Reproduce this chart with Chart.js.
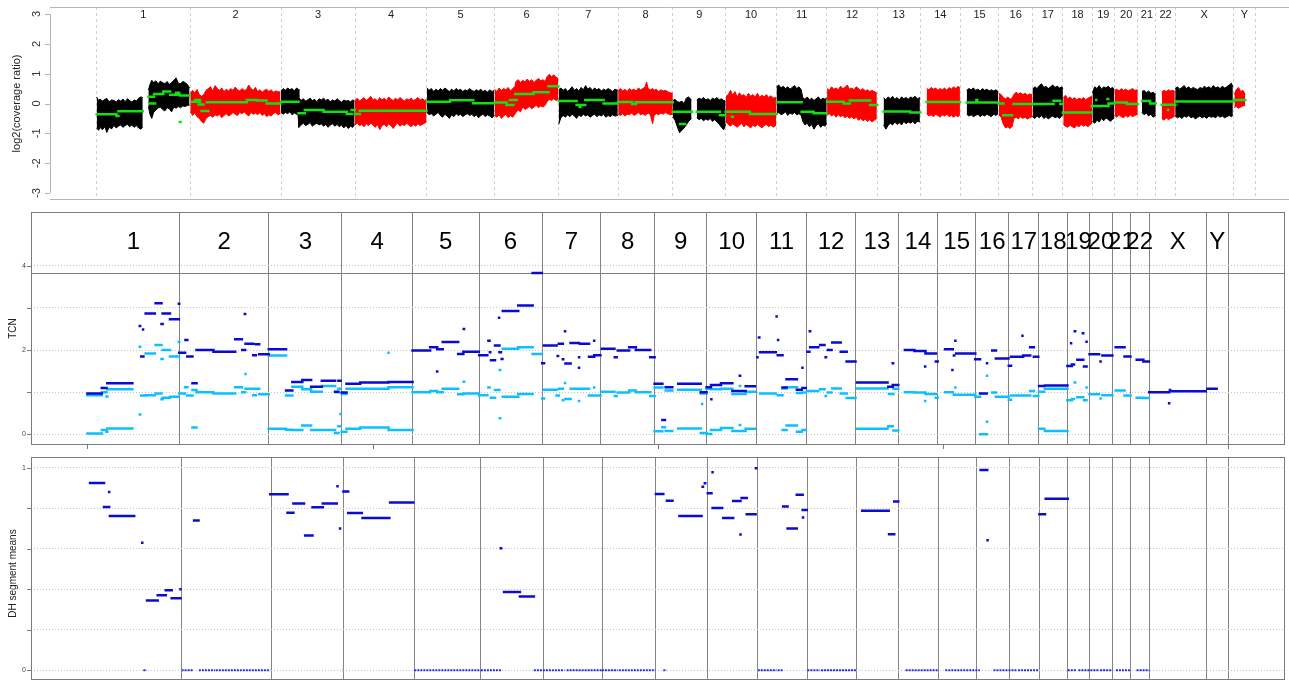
<!DOCTYPE html>
<html>
<head>
<meta charset="utf-8">
<title>Copy number profile</title>
<script src="https://cdn.jsdelivr.net/npm/chart.js@4.4.1/dist/chart.umd.min.js"></script>
<style>
  html, body { margin: 0; padding: 0; background: #ffffff; }
  #wrap { position: relative; width: 1289px; height: 682px; overflow: hidden; }
  .panel { position: absolute; left: 0; }
  canvas { display: block; }
</style>
</head>
<body>
<div id="wrap">
  <div class="panel" style="top:0;"><canvas id="cov" width="1289" height="205" style="width:1289px;height:205px"></canvas></div>
  <div class="panel" style="top:205px;"><canvas id="tcn" width="1289" height="247" style="width:1289px;height:247px"></canvas></div>
  <div class="panel" style="top:452px;"><canvas id="dh" width="1289" height="230" style="width:1289px;height:230px"></canvas></div>
</div>
<script>
// ---------------- genome layout (hg19, Mb) ----------------
const chromNames = ['1','2','3','4','5','6','7','8','9','10','11','12','13','14','15','16','17','18','19','20','21','22','X','Y'];
const chromLengthsMb = [249.25, 243.2, 198.0, 191.15, 180.9, 171.1, 159.1, 146.4, 141.2, 135.5, 135.0, 133.85,
                        115.2, 107.35, 102.5, 90.35, 81.2, 78.1, 59.1, 63.0, 48.1, 51.3, 155.3, 59.4];

// ---------------- log2 coverage ratio: per-region envelope [pos Mb, high, low] ----------------
const covEnvelope = [
  ['1', [[0,0.22,-0.82],[5,0.1,-0.9],[9,0.15,-0.8],[15,0.08,-0.88],[22,0.14,-0.78],[27,0.17,-0.97],[33,0.06,-0.8],[40,0.12,-0.85],[46,0.1,-0.74],[52,0.05,-0.82],[58,0.13,-0.76],[64,0.08,-0.72],[70,0.15,-0.8],[76,0.06,-0.74],[82,0.16,-0.7],[88,0.1,-0.78],[94,0.05,-0.72],[100,0.12,-0.8],[106,0.08,-0.74],[112,0.18,-0.82],[118,0.22,-0.86],[123,0.2,-0.8]]],
  ['1', [[138,0.45,-0.1],[142,0.62,-0.35],[147,0.78,-0.5],[152,0.7,-0.3],[158,0.76,-0.22],[164,0.66,-0.15],[170,0.75,-0.12],[176,0.7,-0.2],[182,0.66,-0.25],[188,0.74,-0.14],[194,0.64,-0.18],[200,0.7,-0.28],[206,0.78,-0.12],[212,0.86,-0.16],[218,0.68,-0.1],[224,0.66,-0.14],[230,0.74,-0.08],[236,0.7,-0.1],[242,0.64,-0.07],[248,0.52,-0.05]]],
  ['2', [[250,0.34,-0.28],[256,0.44,-0.4],[262,0.36,-0.32],[268,0.47,-0.44],[274,0.3,-0.5],[280,0.24,-0.6],[286,0.3,-0.66],[292,0.44,-0.5],[298,0.5,-0.44],[304,0.56,-0.4],[310,0.42,-0.46],[316,0.6,-0.38],[322,0.5,-0.42],[328,0.44,-0.36],[334,0.52,-0.48],[340,0.4,-0.4],[346,0.48,-0.34],[352,0.42,-0.42],[358,0.5,-0.38],[364,0.44,-0.3],[370,0.55,-0.36],[376,0.46,-0.4],[382,0.42,-0.3],[388,0.5,-0.34],[394,0.44,-0.28],[400,0.46,-0.36],[406,0.62,-0.42],[412,0.5,-0.3],[418,0.44,-0.36],[424,0.54,-0.32],[430,0.4,-0.38],[436,0.46,-0.3],[442,0.38,-0.4],[448,0.44,-0.34],[454,0.48,-0.44],[460,0.4,-0.38],[466,0.46,-0.42],[472,0.38,-0.34],[478,0.42,-0.3],[484,0.4,-0.38],[491,0.38,-0.34]]],
  ['3', [[492,0.42,-0.3],[498,0.5,-0.36],[504,0.44,-0.3],[510,0.52,-0.34],[516,0.46,-0.28],[522,0.5,-0.38],[528,0.42,-0.32],[534,0.52,-0.36],[538,0.48,-0.4],[540,0.2,-0.8],[546,0.1,-0.72],[552,0.16,-0.66],[558,0.08,-0.74],[564,0.12,-0.7],[570,0.18,-0.64],[576,0.1,-0.76],[582,0.14,-0.7],[588,0.06,-0.66],[594,0.16,-0.72],[600,0.12,-0.68],[606,0.18,-0.76],[612,0.1,-0.7],[618,0.14,-0.8],[624,0.06,-0.72],[630,0.12,-0.68],[636,0.08,-0.76],[642,0.16,-0.7],[648,0.1,-0.78],[654,0.04,-0.72],[660,0.12,-0.82],[666,0.08,-0.74],[672,0.1,-0.84],[678,0.06,-0.76],[684,0.12,-0.8],[689,0.08,-0.7]]],
  ['4', [[690,0.1,-0.72],[696,0.18,-0.66],[702,0.08,-0.74],[708,0.14,-0.7],[714,0.2,-0.78],[720,0.1,-0.68],[726,0.16,-0.74],[732,0.24,-0.66],[738,0.12,-0.72],[744,0.16,-0.8],[750,0.08,-0.7],[756,0.2,-0.88],[762,0.12,-0.74],[768,0.18,-0.7],[774,0.1,-0.78],[780,0.22,-0.68],[786,0.14,-0.74],[792,0.1,-0.84],[798,0.18,-0.72],[804,0.12,-0.66],[810,0.2,-0.76],[816,0.14,-0.7],[822,0.08,-0.74],[828,0.16,-0.66],[834,0.12,-0.72],[840,0.18,-0.78],[846,0.1,-0.7],[852,0.14,-0.76],[858,0.2,-0.68],[864,0.12,-0.74],[870,0.16,-0.7],[876,0.1,-0.66],[881,0.14,-0.6]]],
  ['5', [[882,0.52,-0.3],[888,0.44,-0.38],[894,0.5,-0.34],[900,0.4,-0.42],[906,0.48,-0.36],[912,0.42,-0.3],[918,0.5,-0.4],[924,0.44,-0.46],[930,0.52,-0.36],[936,0.46,-0.42],[942,0.4,-0.5],[948,0.48,-0.38],[954,0.42,-0.44],[960,0.5,-0.34],[966,0.44,-0.4],[972,0.48,-0.36],[978,0.4,-0.44],[984,0.46,-0.38],[990,0.42,-0.34],[996,0.5,-0.4],[1002,0.44,-0.36],[1008,0.4,-0.44],[1014,0.46,-0.38],[1020,0.42,-0.48],[1026,0.48,-0.4],[1032,0.4,-0.36],[1038,0.44,-0.44],[1044,0.38,-0.38],[1050,0.46,-0.42],[1056,0.4,-0.48],[1062,0.44,-0.4]]],
  ['6', [[1063,0.48,-0.4],[1069,0.4,-0.46],[1075,0.52,-0.38],[1081,0.44,-0.5],[1087,0.5,-0.42],[1093,0.46,-0.36],[1099,0.54,-0.48],[1105,0.42,-0.4],[1111,0.5,-0.46],[1117,0.56,-0.36],[1120,0.74,-0.3],[1126,0.8,-0.22],[1132,0.7,-0.28],[1138,0.78,-0.12],[1144,0.72,-0.2],[1150,0.82,-0.16],[1156,0.74,-0.1],[1162,0.8,-0.18],[1168,0.7,-0.12],[1174,0.78,-0.06],[1180,0.84,-0.14],[1186,0.76,-0.08],[1192,0.8,-0.12],[1198,0.74,-0.06],[1203,0.9,0.06],[1209,0.98,0.14],[1215,0.9,0.1],[1221,0.96,0.16],[1227,0.88,0.1],[1233,0.84,0.14]]],
  ['7', [[1234,0.46,-0.7],[1240,0.52,-0.48],[1246,0.44,-0.4],[1252,0.5,-0.46],[1258,0.4,-0.38],[1264,0.48,-0.44],[1270,0.56,-0.36],[1276,0.44,-0.42],[1282,0.5,-0.5],[1288,0.42,-0.38],[1294,0.54,-0.44],[1300,0.46,-0.36],[1306,0.6,-0.42],[1312,0.48,-0.38],[1318,0.54,-0.46],[1324,0.44,-0.4],[1330,0.52,-0.36],[1336,0.46,-0.44],[1342,0.5,-0.38],[1348,0.42,-0.42],[1354,0.48,-0.36],[1360,0.44,-0.46],[1366,0.5,-0.4],[1372,0.46,-0.44],[1378,0.4,-0.38],[1384,0.48,-0.42],[1392,0.44,-0.4]]],
  ['8', [[1393,0.44,-0.36],[1399,0.5,-0.4],[1405,0.42,-0.34],[1411,0.48,-0.42],[1417,0.4,-0.36],[1423,0.5,-0.38],[1429,0.44,-0.32],[1435,0.48,-0.4],[1441,0.42,-0.36],[1447,0.52,-0.3],[1453,0.46,-0.38],[1459,0.5,-0.34],[1465,0.56,-0.4],[1469,0.72,-0.36],[1473,0.5,-0.32],[1479,0.46,-0.38],[1485,0.5,-0.68],[1489,0.44,-0.4],[1495,0.48,-0.34],[1501,0.4,-0.38],[1507,0.46,-0.32],[1513,0.42,-0.36],[1519,0.44,-0.3],[1525,0.4,-0.34],[1531,0.36,-0.38],[1539,0.34,-0.36]]],
  ['9', [[1539,0.1,-0.46],[1545,0.14,-0.56],[1551,0.06,-0.78],[1557,0.04,-0.98],[1563,0.08,-0.9],[1569,0.0,-0.82],[1575,0.18,-0.72],[1581,0.22,-0.6],[1589,0.12,-0.5]]],
  ['9', [[1603,0.12,-0.48],[1609,0.18,-0.54],[1615,0.14,-0.5],[1621,0.2,-0.58],[1627,0.12,-0.52],[1633,0.16,-0.56],[1639,0.1,-0.5],[1645,0.18,-0.6],[1651,0.14,-0.54],[1657,0.2,-0.62],[1663,0.12,-0.7],[1669,0.16,-0.8],[1675,0.1,-0.88],[1680,0.08,-0.7]]],
  ['10', [[1681,0.24,-0.62],[1687,0.3,-0.7],[1693,0.44,-0.76],[1699,0.28,-0.68],[1705,0.4,-0.74],[1711,0.22,-0.8],[1717,0.36,-0.72],[1723,0.26,-0.66],[1729,0.3,-0.78],[1735,0.2,-0.7],[1741,0.34,-0.76],[1747,0.24,-0.82],[1753,0.3,-0.72],[1759,0.22,-0.78],[1765,0.34,-0.7],[1771,0.2,-0.76],[1777,0.28,-0.82],[1783,0.22,-0.74],[1789,0.3,-0.7],[1795,0.2,-0.78],[1801,0.26,-0.72],[1807,0.18,-0.8],[1815,0.2,-0.72]]],
  ['11', [[1816,0.56,-0.36],[1822,0.62,-0.3],[1828,0.52,-0.38],[1834,0.58,-0.34],[1840,0.5,-0.28],[1846,0.56,-0.4],[1852,0.48,-0.32],[1858,0.54,-0.36],[1864,0.6,-0.3],[1870,0.5,-0.38],[1876,0.56,-0.34],[1882,0.46,-0.4],[1886,0.2,-0.6],[1892,0.14,-0.72],[1898,0.22,-0.66],[1904,0.12,-0.78],[1910,0.18,-0.7],[1916,0.1,-0.86],[1922,0.16,-0.74],[1928,0.22,-0.68],[1934,0.12,-0.8],[1940,0.18,-0.72],[1946,0.14,-0.76],[1950,0.2,-0.66]]],
  ['12', [[1951,0.5,-0.4],[1957,0.44,-0.34],[1963,0.56,-0.42],[1969,0.48,-0.36],[1975,0.52,-0.46],[1981,0.46,-0.38],[1987,0.58,-0.44],[1993,0.5,-0.4],[1999,0.54,-0.48],[2005,0.62,-0.42],[2011,0.48,-0.5],[2017,0.52,-0.44],[2023,0.46,-0.52],[2029,0.56,-0.46],[2035,0.5,-0.56],[2041,0.44,-0.5],[2047,0.5,-0.58],[2053,0.42,-0.52],[2059,0.46,-0.6],[2065,0.4,-0.54],[2071,0.44,-0.62],[2077,0.4,-0.56],[2084,0.36,-0.5]]],
  ['13', [[2102,0.2,-0.72],[2108,0.12,-0.86],[2114,0.22,-0.74],[2120,0.16,-0.66],[2126,0.24,-0.72],[2132,0.14,-0.62],[2138,0.2,-0.7],[2144,0.12,-0.64],[2150,0.22,-0.72],[2156,0.16,-0.6],[2162,0.2,-0.68],[2168,0.14,-0.62],[2174,0.22,-0.66],[2180,0.18,-0.6],[2186,0.24,-0.68],[2192,0.16,-0.6],[2199,0.2,-0.62]]],
  ['14', [[2217,0.5,-0.34],[2223,0.46,-0.42],[2229,0.54,-0.38],[2235,0.48,-0.44],[2241,0.52,-0.36],[2247,0.44,-0.4],[2253,0.5,-0.46],[2259,0.46,-0.38],[2265,0.52,-0.42],[2271,0.44,-0.36],[2277,0.54,-0.44],[2283,0.48,-0.4],[2289,0.56,-0.46],[2295,0.5,-0.4],[2301,0.58,-0.44],[2306,0.52,-0.38]]],
  ['15', [[2324,0.44,-0.36],[2330,0.5,-0.42],[2336,0.46,-0.38],[2342,0.52,-0.44],[2348,0.44,-0.4],[2354,0.48,-0.36],[2360,0.42,-0.44],[2366,0.5,-0.38],[2372,0.44,-0.42],[2378,0.48,-0.36],[2384,0.42,-0.4],[2390,0.46,-0.44],[2396,0.42,-0.36],[2402,0.46,-0.4],[2408,0.4,-0.34]]],
  ['16', [[2410,0.34,-0.38],[2416,0.3,-0.46],[2422,0.2,-0.7],[2428,0.16,-0.82],[2434,0.22,-0.78],[2440,0.14,-0.84],[2446,0.2,-0.76],[2450,0.3,-0.5],[2456,0.38,-0.46],[2462,0.32,-0.52],[2468,0.36,-0.44],[2474,0.3,-0.5],[2480,0.34,-0.46],[2486,0.28,-0.52],[2492,0.32,-0.48],[2499,0.3,-0.44]]],
  ['17', [[2500,0.48,-0.44],[2506,0.56,-0.5],[2512,0.5,-0.42],[2518,0.6,-0.48],[2524,0.66,-0.4],[2530,0.54,-0.5],[2536,0.58,-0.44],[2542,0.5,-0.52],[2548,0.56,-0.46],[2554,0.62,-0.42],[2560,0.54,-0.48],[2566,0.58,-0.44],[2572,0.52,-0.5],[2578,0.56,-0.42],[2581,0.5,-0.38]]],
  ['18', [[2582,0.2,-0.7],[2588,0.28,-0.76],[2594,0.16,-0.8],[2600,0.22,-0.72],[2606,0.14,-0.78],[2612,0.2,-0.82],[2618,0.12,-0.74],[2624,0.18,-0.78],[2630,0.14,-0.7],[2636,0.2,-0.76],[2642,0.12,-0.72],[2648,0.18,-0.78],[2654,0.22,-0.7],[2659,0.26,-0.66]]],
  ['19', [[2660,0.36,-0.6],[2666,0.56,-0.66],[2672,0.5,-0.56],[2678,0.6,-0.62],[2684,0.48,-0.5],[2690,0.56,-0.58],[2696,0.52,-0.48],[2702,0.58,-0.54],[2708,0.5,-0.6],[2714,0.54,-0.52],[2718,0.46,-0.5]]],
  ['20', [[2719,0.44,-0.4],[2725,0.48,-0.46],[2731,0.42,-0.38],[2737,0.5,-0.44],[2743,0.44,-0.48],[2749,0.48,-0.4],[2755,0.42,-0.46],[2761,0.46,-0.38],[2767,0.5,-0.44],[2773,0.44,-0.4],[2781,0.46,-0.36]]],
  ['21', [[2792,0.4,-0.3],[2798,0.44,-0.38],[2804,0.36,-0.32],[2810,0.42,-0.42],[2816,0.34,-0.36],[2822,0.38,-0.46],[2829,0.3,-0.4]]],
  ['22', [[2845,0.38,-0.5],[2851,0.44,-0.56],[2857,0.4,-0.48],[2863,0.46,-0.54],[2869,0.42,-0.5],[2875,0.44,-0.46],[2880,0.4,-0.42]]],
  ['X', [[2881,0.5,-0.42],[2887,0.56,-0.48],[2893,0.48,-0.44],[2899,0.54,-0.5],[2905,0.6,-0.42],[2911,0.5,-0.46],[2917,0.56,-0.4],[2923,0.48,-0.48],[2929,0.54,-0.44],[2935,0.5,-0.52],[2941,0.46,-0.46],[2947,0.54,-0.42],[2953,0.5,-0.48],[2959,0.58,-0.44],[2965,0.52,-0.5],[2971,0.56,-0.42],[2977,0.5,-0.46],[2983,0.6,-0.44],[2989,0.52,-0.48],[2995,0.56,-0.4],[3001,0.5,-0.46],[3007,0.58,-0.42],[3013,0.52,-0.48],[3019,0.56,-0.44],[3025,0.62,-0.4],[3031,0.68,-0.44],[3035,0.56,-0.4]]],
  ['Y', [[3039,0.3,-0.14],[3044,0.46,-0.1],[3050,0.54,-0.16],[3056,0.4,-0.12],[3062,0.44,-0.08],[3068,0.3,-0.06]]]
];

// segmented log2 ratio [start Mb, end Mb, mean]
const logRatioSegs = [
  [0,53,-0.36],[53,58,-0.42],[58,123,-0.26],
  [138,153,0.23],[141,156,0.0],[153,178,0.32],[178,196,0.4],[196,222,0.29],[212,220,0.36],[222,248,0.27],[222,224,-0.62],
  [254,276,0.06],[263,276,0.12],[272,285,-0.03],[280,298,-0.25],[294,401,0.04],[401,427,0.12],[427,454,0.1],[454,491,0.0],
  [492,539,0.06],[539,556,-0.33],[556,606,-0.22],[606,668,-0.28],[668,681,-0.35],[681,689,-0.22],
  [689,703,-0.35],[703,881,-0.24],
  [882,944,0.06],[944,1006,0.11],[1006,1060,0.01],
  [1063,1095,0.03],[1095,1113,-0.05],[1104,1122,0.12],[1118,1167,0.32],[1167,1207,0.38],[1207,1233,0.58],
  [1234,1282,0.08],[1282,1305,-0.05],[1305,1354,0.12],[1354,1391,0.0],[1290,1292,-0.12],
  [1393,1430,0.05],[1430,1440,-0.02],[1440,1539,0.04],
  [1539,1590,-0.28],[1558,1572,-0.69],[1603,1665,-0.28],[1665,1679,-0.39],
  [1680,1745,-0.28],[1745,1816,-0.35],[1697,1699,-0.44],
  [1817,1883,0.04],[1883,1915,-0.28],[1915,1950,-0.33],
  [1951,1995,0.06],[1995,2012,0.0],[2012,2066,0.1],[2066,2085,-0.05],
  [2102,2173,-0.27],[2173,2200,-0.3],
  [2217,2306,0.05],
  [2324,2409,0.03],[2350,2352,0.12],
  [2409,2422,0.0],[2422,2445,-0.39],[2449,2500,-0.02],
  [2500,2556,-0.02],[2556,2574,0.09],[2574,2581,-0.02],
  [2581,2658,-0.3],
  [2658,2703,-0.08],[2703,2718,0.0],[2670,2672,0.12],[2700,2702,0.15],
  [2719,2752,0.03],[2752,2781,-0.02],
  [2792,2814,0.08],[2814,2829,0.0],
  [2845,2881,-0.04],[2862,2864,-0.22],
  [2882,3036,0.07],
  [3039,3068,0.12]
];

// total copy number segments [start Mb, end Mb, TCN]
const tcnSegs = [
  [0,39,0.97],[39,52,1.10],[54,122,1.21],[142,143,2.57],[151,152,2.49],[146,152,1.85],[158,183,2.87],[185,201,3.11],[201,204,2.62],[204,224,2.87],[224,248,2.73],[248,249,3.1],
  [249,265,1.94],[266,271,2.24],[271,285,1.85],[285,296,1.21],[296,342,2.0],[342,401,1.96],[401,419,2.26],[420,428,2.0],[427,428,2.86],[429,450,2.15],[450,457,1.88],[457,466,2.14],[466,492,1.9],
  [492,539,2.02],[539,556,1.04],[556,583,1.24],[583,607,1.29],[607,636,1.13],[636,672,1.27],[672,681,1.01],[681,687,1.27],
  [690,703,0.99],[703,740,1.2],[740,817,1.23],[817,882,1.24],
  [882,930,1.99],[930,949,2.07],[949,964,2.02],[964,1006,2.19],[1006,1020,1.91],[1020,1062,1.96],[949,950,1.49],[1021,1022,2.5],
  [1063,1085,1.88],[1088,1091,2.22],[1092,1093,1.95],[1095,1106,1.76],[1106,1118,2.11],[1118,1122,1.95],[1124,1126,1.79],[1117,1118,2.77],[1127,1169,2.93],[1169,1208,3.06],[1208,1233,3.83],
  [1234,1239,1.69],[1239,1273,2.11],[1276,1277,1.86],[1279,1290,2.15],[1290,1291,1.78],[1296,1297,2.45],[1297,1311,1.68],[1311,1334,2.17],[1334,1335,1.83],[1334,1335,1.58],[1336,1361,2.15],[1361,1375,1.84],[1375,1392,1.88],[1375,1376,2.22],
  [1396,1430,2.03],[1431,1436,1.83],[1439,1470,1.99],[1470,1488,2.07],[1488,1527,2.0],[1527,1539,1.83],
  [1539,1560,1.2],[1560,1567,0.34],[1569,1587,1.12],[1603,1664,1.2],[1664,1680,1.0],
  [1680,1692,1.12],[1692,1719,1.17],[1719,1750,1.21],[1750,1786,1.03],[1786,1811,1.14],[1770,1771,1.39],[1693,1694,0.83],
  [1818,1819,1.83],[1822,1823,2.3],[1825,1868,1.95],[1870,1871,2.8],[1873,1886,1.88],[1874,1875,2.24],[1886,1897,1.11],[1897,1925,1.31],[1925,1938,1.06],[1940,1949,1.10],[1940,1941,1.58],
  [1954,1959,1.96],[1960,1961,2.45],[1961,1983,2.07],[1988,2000,2.12],[2003,2004,1.83],[2009,2019,2.0],[2021,2044,2.18],[2044,2060,1.96],[2060,2084,1.73],
  [2088,2171,1.23],[2173,2185,1.13],[2185,2200,1.17],[2185,2186,1.69],
  [2218,2244,2.0],[2244,2274,1.98],[2274,2302,1.92],[2302,2307,1.73],[2273,2274,1.61],
  [2327,2348,2.02],[2351,2352,1.87],[2357,2409,1.92],[2355,2356,2.22],[2347,2348,1.53],
  [2409,2422,1.78],[2422,2440,0.97],[2441,2442,1.69],[2455,2465,1.99],[2465,2499,1.8],
  [2500,2506,1.63],[2506,2539,1.84],[2539,2558,1.87],[2558,2568,2.07],[2568,2580,1.84],[2537,2538,2.34],
  [2582,2596,1.15],[2598,2659,1.16],
  [2659,2671,1.62],[2671,2677,1.66],[2679,2680,2.45],[2686,2702,1.77],[2704,2711,1.61],[2669,2670,2.16],[2701,2702,2.4],[2711,2712,2.2],
  [2719,2745,1.9],[2749,2750,1.73],[2754,2781,1.87],
  [2790,2814,2.07],[2814,2830,1.85],
  [2847,2865,1.77],[2865,2880,1.73],
  [2881,2935,1.0],[2937,2938,1.05],[2942,3034,1.02],[2935,2936,0.74],
  [3039,3064,1.08]
];

// parental (major / minor) copy number segments [start Mb, end Mb, CN]
const parentalSegs = [
  [0,39,0.93],[0,39,0.02],[39,52,1.0],[39,52,0.10],[52,54,0.9],[52,54,0.06],[54,122,1.07],[54,122,0.14],[142,143,0.47],[142,143,2.08],[146,158,0.92],[158,183,1.92],[158,183,0.93],[185,201,2.12],[185,201,0.97],[201,204,1.79],[201,204,0.83],[204,224,2.0],[204,224,0.87],[224,248,1.85],[224,248,0.89],[248,249,2.19],
  [249,265,0.97],[265,271,1.12],[271,285,0.92],[285,296,1.05],[285,296,0.16],[296,342,1.0],[342,401,0.97],[401,419,1.12],[420,428,1.0],[429,450,1.08],[450,457,0.93],[457,466,1.08],[466,492,0.95],[429,430,1.43],
  [492,539,1.87],[492,539,0.13],[539,556,0.92],[539,556,0.11],[556,583,1.13],[556,583,0.10],[583,607,1.07],[583,607,0.21],[607,636,1.01],[607,636,0.10],[636,672,1.15],[636,672,0.10],[672,681,1.0],[672,681,0.03],[681,687,1.08],[681,687,0.19],[687,688,0.48],
  [690,703,0.96],[690,703,0.06],[703,740,1.08],[703,740,0.13],[740,817,1.08],[740,817,0.16],[817,882,1.12],[817,882,0.10],[817,818,1.94],
  [882,930,1.0],[930,949,1.03],[949,964,1.0],[964,1006,1.08],[1006,1020,0.95],[1020,1062,0.97],[1021,1022,1.25],
  [1063,1085,0.93],[1088,1091,1.11],[1095,1106,0.87],[1106,1118,1.05],[1127,1169,2.03],[1127,1169,0.89],[1169,1208,2.07],[1169,1208,0.96],[1208,1233,1.91],[1119,1120,1.53],[1119,1120,0.38],
  [1234,1239,0.85],[1239,1273,1.06],[1273,1279,0.92],[1279,1290,1.08],[1290,1291,0.81],[1296,1297,1.22],[1297,1311,0.84],[1311,1334,1.08],[1334,1335,0.79],[1336,1361,1.08],[1361,1375,0.92],[1375,1392,0.92],[1375,1377,1.11],
  [1396,1430,1.01],[1431,1436,0.91],[1439,1470,0.99],[1470,1488,1.04],[1488,1527,1.0],[1527,1539,0.91],
  [1539,1560,1.11],[1539,1560,0.07],[1560,1567,0.17],[1569,1587,1.04],[1569,1587,0.08],[1603,1664,1.06],[1603,1664,0.14],[1664,1680,0.97],[1664,1680,0.03],[1668,1669,0.72],
  [1680,1692,1.08],[1680,1692,0.01],[1692,1719,1.07],[1692,1719,0.10],[1719,1750,1.08],[1719,1750,0.15],[1750,1786,0.96],[1750,1786,0.08],[1786,1811,1.01],[1786,1811,0.13],[1770,1771,1.15],[1770,1771,0.22],
  [1825,1868,0.97],[1873,1886,0.93],[1886,1897,1.09],[1886,1897,0.10],[1897,1925,1.12],[1897,1925,0.21],[1925,1938,0.98],[1925,1938,0.06],[1940,1949,0.99],[1940,1949,0.10],
  [1954,1983,1.03],[1988,2000,1.07],[2003,2004,0.91],[2009,2019,0.99],[2021,2044,1.09],[2044,2060,0.97],[2060,2084,0.86],
  [2088,2171,1.09],[2088,2171,0.13],[2173,2185,0.19],[2175,2187,0.96],[2187,2200,1.08],[2187,2200,0.09],
  [2218,2244,1.0],[2244,2274,0.99],[2274,2302,0.96],[2302,2307,0.87],[2273,2274,0.79],
  [2327,2348,1.0],[2351,2409,0.94],[2355,2356,1.11],
  [2409,2422,0.89],[2422,2440,0.0],[2441,2442,1.39],[2441,2442,0.3],[2455,2465,0.99],[2465,2499,0.89],
  [2500,2506,0.82],[2506,2558,0.92],[2558,2568,1.03],[2568,2580,0.91],
  [2582,2596,1.01],[2582,2596,0.13],[2598,2659,1.08],[2598,2659,0.08],
  [2659,2671,0.81],[2671,2677,0.84],[2679,2680,1.23],[2686,2702,0.88],[2704,2711,0.81],[2711,2712,1.11],
  [2719,2745,0.95],[2749,2750,0.85],[2754,2781,0.93],
  [2790,2814,1.04],[2814,2830,0.92],
  [2847,2865,0.87],[2865,2880,0.86]
];

// DH segment means [start Mb, end Mb, mean]
const dhSegs = [
  [0,38,0.925],[38,52,0.806],[52,53,0.88],[54,120,0.762],[142,143,0.63],[145,154,0],[155,184,0.345],[184,206,0.37],[206,222,0.395],[222,246,0.355],[246,247,0.4],
  [249,281,0],[283,295,0.739],[296,340,0],[342,490,0],
  [490,537,0.869],[537,553,0.778],[553,582,0.823],[585,605,0.665],[605,633,0.805],[633,671,0.823],[673,674,0.908],[680,681,0.70],[686,687,0],
  [689,702,0.882],[702,739,0.777],[741,814,0.752],[816,879,0.828],
  [882,1062,0],[1063,1118,0],[1117,1118,0.602],[1126,1169,0.387],[1169,1207,0.364],
  [1207,1290,0],[1296,1392,0],[1392,1435,0],[1438,1538,0],
  [1539,1559,0.87],[1559,1568,0],[1569,1584,0.837],[1603,1663,0.762],[1666,1667,0.906],[1672,1673,0.923],
  [1680,1690,0.874],[1693,1694,0.977],[1693,1719,0.801],[1722,1749,0.752],[1749,1769,0.836],[1769,1770,0.67],[1772,1786,0.851],[1786,1810,0.77],[1811,1812,0.997],
  [1816,1867,0],[1870,1884,0],[1885,1897,0.808],[1897,1922,0.70],[1922,1938,0.867],[1938,1949,0.791],[1939,1940,0.754],
  [1951,1985,0],[1988,2083,0],
  [2100,2172,0.788],[2173,2187,0.671],[2187,2198,0.833],
  [2218,2307,0],[2326,2420,0],
  [2422,2440,0.989],[2441,2442,0.642],[2457,2520,0],[2524,2579,0],
  [2582,2597,0.77],[2599,2659,0.847],
  [2659,2683,0],[2688,2744,0],[2747,2780,0],[2790,2828,0],[2846,2881,0]
];

// axis ticks
const logRatioTicks = [-3, -2, -1, 0, 1, 2, 3];
const tcnTicks = [0, 1, 2, 3, 4];
const tcnTickLabels = ['0', '', '2', '', '4'];
const dhTicks = [0, 0.2, 0.4, 0.6, 0.8, 1];
const dhTickLabels = ['0', '', '', '', '', '1'];

// ---------------- derived layout ----------------
const chromStarts = [];
let genomeEnd = 0;
chromLengthsMb.forEach(len => { chromStarts.push(genomeEnd); genomeEnd += len; });
const chromBounds = chromStarts.concat([genomeEnd]);
const chromMids = chromStarts.map((s, i) => s + chromLengthsMb[i] / 2);
const quarterTicks = [0, 1, 2, 3, 4].map(q => genomeEnd * q / 4);

const FONT = "'Liberation Sans', Arial, Helvetica, sans-serif";

function segmentPoints(segs) {
  const pts = [];
  segs.forEach(([s, e, v]) => {
    pts.push({ x: s, y: v }, { x: e, y: v }, { x: e, y: null });
  });
  return pts;
}

function envelopePoints(keep) {
  const hi = [], lo = [];
  covEnvelope.forEach(([chr, pts]) => {
    if (!keep(chromNames.indexOf(chr))) return;
    pts.forEach(([x, h, l]) => { hi.push({ x, y: h }); lo.push({ x, y: l }); });
    const last = pts[pts.length - 1][0];
    hi.push({ x: last, y: null });
    lo.push({ x: last, y: null });
  });
  return [hi, lo];
}

const [blackHi, blackLo] = envelopePoints(i => i % 2 === 0);
const [redHi, redLo] = envelopePoints(i => i % 2 === 1);

function boundsTicks(values) {
  return scale => { scale.ticks = values.map(v => ({ value: v })); };
}

const baseOptions = {
  responsive: false,
  animation: false,
  events: [],
  plugins: { legend: { display: false }, tooltip: { enabled: false } },
  elements: { point: { radius: 0 }, line: { tension: 0 } }
};

// ---------------- panel 1: log2 coverage ratio ----------------
new Chart(document.getElementById('cov'), {
  type: 'line',
  data: {
    datasets: [
      { data: segmentPoints(logRatioSegs), borderColor: '#12e012', borderWidth: 2.5, borderCapStyle: 'square', fill: false },
      { data: blackHi, borderColor: '#000000', borderWidth: 1, fill: false },
      { data: blackLo, borderColor: '#000000', borderWidth: 1, backgroundColor: '#000000', fill: '-1' },
      { data: redHi, borderColor: '#ff0000', borderWidth: 1, fill: false },
      { data: redLo, borderColor: '#ff0000', borderWidth: 1, backgroundColor: '#ff0000', fill: '-1' }
    ]
  },
  options: Object.assign({}, baseOptions, {
    layout: { padding: { left: 50, top: 7, right: 0, bottom: 5 } },
    scales: {
      x: {
        type: 'linear', min: -124.8, max: 3185,
        afterBuildTicks: boundsTicks(chromBounds),
        ticks: { display: false },
        grid: { color: '#cfcfcf', lineWidth: 1, drawTicks: false },
        border: { display: false, dash: [3, 3] }
      },
      y: {
        type: 'linear', min: -3.235, max: 3.235,
        ticks: { display: false },
        grid: { display: false, drawTicks: false },
        border: { display: false }
      }
    }
  }),
  plugins: [{
    id: 'covFrame',
    afterDraw(chart) {
      const { ctx, chartArea: a, scales: { x, y } } = chart;
      ctx.save();
      ctx.strokeStyle = '#b5b5b5';
      ctx.lineWidth = 1;
      ctx.beginPath();
      ctx.moveTo(a.left, a.top + 0.5); ctx.lineTo(a.right, a.top + 0.5);
      ctx.moveTo(a.left, a.bottom - 0.5); ctx.lineTo(a.right, a.bottom - 0.5);
      ctx.moveTo(a.left + 0.5, Math.round(y.getPixelForValue(3)));
      ctx.lineTo(a.left + 0.5, Math.round(y.getPixelForValue(-3)));
      logRatioTicks.forEach(t => {
        const py = Math.round(y.getPixelForValue(t)) + 0.5;
        ctx.moveTo(a.left - 5, py); ctx.lineTo(a.left, py);
      });
      ctx.stroke();
      ctx.fillStyle = '#333333';
      ctx.font = '11px ' + FONT;
      ctx.textAlign = 'center';
      ctx.textBaseline = 'middle';
      logRatioTicks.forEach(t => {
        ctx.save();
        ctx.translate(a.left - 13, y.getPixelForValue(t));
        ctx.rotate(-Math.PI / 2);
        ctx.fillText(String(t), 0, 0);
        ctx.restore();
      });
      ctx.save();
      ctx.translate(17, (a.top + a.bottom) / 2);
      ctx.rotate(-Math.PI / 2);
      ctx.fillStyle = '#222222';
      ctx.fillText('log2(coverage ratio)', 0, 0);
      ctx.restore();
      ctx.fillStyle = '#222222';
      chromNames.forEach((n, i) => ctx.fillText(n, x.getPixelForValue(chromMids[i]), 15));
      ctx.restore();
    }
  }]
});

// ---------------- panel 2: total copy number ----------------
const HEADER_TCN = 3.82;
new Chart(document.getElementById('tcn'), {
  type: 'line',
  data: {
    datasets: [
      { data: segmentPoints(tcnSegs), borderColor: '#0a0ad0', borderWidth: 2.5, borderCapStyle: 'square', fill: false },
      { data: segmentPoints(parentalSegs), borderColor: '#0cc0ff', borderWidth: 2.5, borderCapStyle: 'square', fill: false }
    ]
  },
  options: Object.assign({}, baseOptions, {
    layout: { padding: { left: 31, top: 7, right: 4, bottom: 7 } },
    scales: {
      x: {
        type: 'linear', min: -153.1, max: 3249.4,
        afterBuildTicks: boundsTicks(chromBounds.slice(1)),
        ticks: { display: false },
        grid: { color: '#858585', lineWidth: 1, drawTicks: false },
        border: { display: false }
      },
      y: {
        type: 'linear', min: -0.254, max: 5.28,
        afterBuildTicks: boundsTicks(tcnTicks),
        ticks: { display: false },
        grid: { color: '#c4c4c4', lineWidth: 1, drawTicks: false },
        border: { display: false, dash: [1, 2] }
      }
    }
  }),
  plugins: [{
    id: 'tcnFrame',
    beforeDatasetsDraw(chart) {
      const { ctx, chartArea: a, scales: { y } } = chart;
      ctx.save();
      ctx.strokeStyle = '#7a7a7a';
      ctx.lineWidth = 1;
      const hy = Math.round(y.getPixelForValue(HEADER_TCN)) + 0.5;
      ctx.beginPath();
      ctx.moveTo(a.left, hy); ctx.lineTo(a.right, hy);
      ctx.stroke();
      ctx.restore();
    },
    afterDraw(chart) {
      const { ctx, chartArea: a, scales: { x, y } } = chart;
      ctx.save();
      ctx.strokeStyle = '#7a7a7a';
      ctx.lineWidth = 1;
      ctx.strokeRect(a.left + 0.5, a.top + 0.5, a.right - a.left - 1, a.bottom - a.top - 1);
      ctx.beginPath();
      tcnTicks.forEach(t => {
        const py = Math.round(y.getPixelForValue(t)) + 0.5;
        ctx.moveTo(a.left - 4, py); ctx.lineTo(a.left, py);
      });
      quarterTicks.forEach(q => {
        const px = Math.round(x.getPixelForValue(q)) + 0.5;
        ctx.moveTo(px, a.bottom); ctx.lineTo(px, a.bottom + 4);
      });
      ctx.stroke();
      ctx.fillStyle = '#444444';
      ctx.font = '7px ' + FONT;
      ctx.textAlign = 'right';
      ctx.textBaseline = 'middle';
      tcnTicks.forEach((t, i) => ctx.fillText(tcnTickLabels[i], a.left - 5, y.getPixelForValue(t)));
      ctx.save();
      ctx.translate(13, (a.top + a.bottom) / 2);
      ctx.rotate(-Math.PI / 2);
      ctx.textAlign = 'center';
      ctx.fillStyle = '#222222';
      ctx.font = '10px ' + FONT;
      ctx.fillText('TCN', 0, 0);
      ctx.restore();
      ctx.fillStyle = '#000000';
      ctx.font = '24px ' + FONT;
      ctx.textAlign = 'center';
      ctx.textBaseline = 'alphabetic';
      chromNames.forEach((n, i) => ctx.fillText(n, x.getPixelForValue(chromMids[i]), a.top + 37));
      ctx.restore();
    }
  }]
});

// ---------------- panel 3: DH segment means ----------------
new Chart(document.getElementById('dh'), {
  type: 'line',
  data: {
    datasets: [
      { data: segmentPoints(dhSegs.filter(s => s[2] > 0)), borderColor: '#0b0bd6', borderWidth: 2.5, borderCapStyle: 'square', fill: false },
      { data: segmentPoints(dhSegs.filter(s => s[2] === 0)), borderColor: '#2a2ae2', borderWidth: 2, borderCapStyle: 'butt', borderDash: [2, 1], fill: false }
    ]
  },
  options: Object.assign({}, baseOptions, {
    layout: { padding: { left: 31, top: 5, right: 4, bottom: 2 } },
    scales: {
      x: {
        type: 'linear', min: -160.6, max: 3249.8,
        afterBuildTicks: boundsTicks(chromBounds.slice(1)),
        ticks: { display: false },
        grid: { color: '#858585', lineWidth: 1, drawTicks: false },
        border: { display: false }
      },
      y: {
        type: 'linear', min: -0.0479, max: 1.0528,
        afterBuildTicks: boundsTicks(dhTicks),
        ticks: { display: false },
        grid: { color: '#c4c4c4', lineWidth: 1, drawTicks: false },
        border: { display: false, dash: [1, 2] }
      }
    }
  }),
  plugins: [{
    id: 'dhFrame',
    afterDraw(chart) {
      const { ctx, chartArea: a, scales: { y } } = chart;
      ctx.save();
      ctx.strokeStyle = '#7a7a7a';
      ctx.lineWidth = 1;
      ctx.strokeRect(a.left + 0.5, a.top + 0.5, a.right - a.left - 1, a.bottom - a.top - 1);
      ctx.beginPath();
      dhTicks.forEach(t => {
        const py = Math.round(y.getPixelForValue(t)) + 0.5;
        ctx.moveTo(a.left - 4, py); ctx.lineTo(a.left, py);
      });
      ctx.stroke();
      ctx.fillStyle = '#444444';
      ctx.font = '7px ' + FONT;
      ctx.textAlign = 'right';
      ctx.textBaseline = 'middle';
      dhTicks.forEach((t, i) => ctx.fillText(dhTickLabels[i], a.left - 5, y.getPixelForValue(t)));
      ctx.save();
      ctx.translate(13, (a.top + a.bottom) / 2 + 5);
      ctx.rotate(-Math.PI / 2);
      ctx.textAlign = 'center';
      ctx.fillStyle = '#222222';
      ctx.font = '10px ' + FONT;
      ctx.fillText('DH segment means', 0, 0);
      ctx.restore();
      ctx.restore();
    }
  }]
});
</script>
</body>
</html>
